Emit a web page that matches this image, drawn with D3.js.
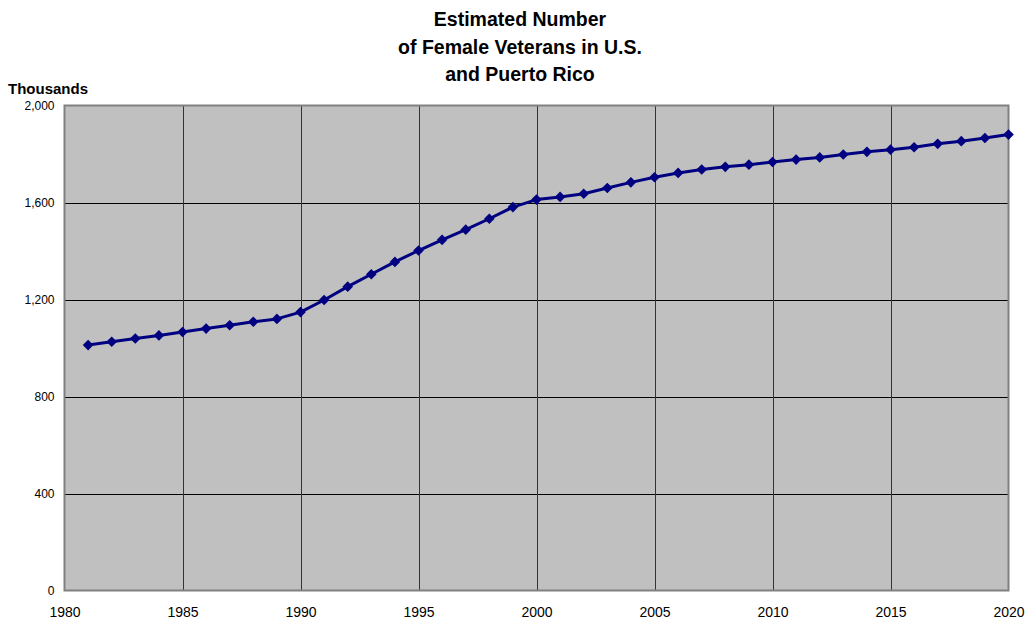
<!DOCTYPE html>
<html><head><meta charset="utf-8">
<script src="https://cdn.jsdelivr.net/npm/d3@7"></script>
<style>body{margin:0;background:#fff;} svg{display:block;font-family:"Liberation Sans",Arial,sans-serif;}</style>
</head><body>
<svg id="chart" width="1029" height="624"></svg>
<script>
const years = d3.range(1981, 2021);
const veterans = [1012,1026,1039,1052,1066,1080,1094,1108,1120,1148,1198,1253,1304,1355,1402,1446,1488,1533,1581,1612,1623,1636,1660,1683,1704,1722,1736,1747,1756,1767,1777,1786,1798,1809,1818,1828,1842,1853,1866,1880];
const xTicks = [1980,1985,1990,1995,2000,2005,2010,2015,2020];
const yTicks = [0,400,800,1200,1600,2000];
const titleLines = ["Estimated Number","of Female Veterans in U.S.","and Puerto Rico"];

const svg = d3.select("#chart");
const L=64.5, R=1008.5, T=105.5, B=590.5;
const x = d3.scaleLinear().domain([1980,2020]).range([L,R]);
const y = d3.scaleLinear().domain([0,2000]).range([B,T]);

svg.append("rect").attr("x",L).attr("y",T).attr("width",R-L).attr("height",B-T).attr("fill","#C0C0C0");

// gridlines
svg.append("g").selectAll("line").data(yTicks.filter(d=>d>0&&d<2000)).join("line")
  .attr("x1",L).attr("x2",R).attr("y1",d=>Math.round(y(d))+0.5).attr("y2",d=>Math.round(y(d))+0.5)
  .attr("stroke","#000").attr("stroke-width",1);
svg.append("g").selectAll("line").data(xTicks.filter(d=>d>1980&&d<2020)).join("line")
  .attr("y1",T).attr("y2",B).attr("x1",d=>Math.round(x(d))+0.5).attr("x2",d=>Math.round(x(d))+0.5)
  .attr("stroke","#333").attr("stroke-width",1);

svg.append("rect").attr("x",L).attr("y",T).attr("width",R-L).attr("height",B-T)
  .attr("fill","none").attr("stroke","#808080").attr("stroke-width",2);

// axes labels
const yAxis = d3.axisLeft(y).tickValues(yTicks).tickFormat(d3.format(",")).tickSize(0).tickPadding(10);
const gy = svg.append("g").attr("transform",`translate(${L},0)`).call(yAxis);
gy.select(".domain").remove();
gy.selectAll("text").attr("font-size",12).attr("fill","#000").attr("font-family","Liberation Sans, Arial, sans-serif");

const xAxis = d3.axisBottom(x).tickValues(xTicks).tickFormat(d3.format("d")).tickSize(0).tickPadding(17);
const gx = svg.append("g").attr("transform",`translate(0,${B})`).call(xAxis);
gx.select(".domain").remove();
gx.selectAll("text").attr("font-size",14).attr("fill","#000").attr("font-family","Liberation Sans, Arial, sans-serif");

// line
const data = years.map((yr,i)=>({yr, v:veterans[i]}));
svg.append("path").datum(data)
  .attr("d", d3.line().x(d=>x(d.yr)).y(d=>y(d.v)))
  .attr("fill","none").attr("stroke","#000080").attr("stroke-width",3).attr("stroke-linejoin","round");
svg.append("g").selectAll("path").data(data).join("path")
  .attr("d", d3.symbol().type(d3.symbolDiamond2).size(72))
  .attr("transform", d=>`translate(${x(d.yr)},${y(d.v)})`)
  .attr("fill","#000080");

// title
svg.append("g").selectAll("text").data(titleLines).join("text")
  .attr("x",520).attr("y",(d,i)=>26+i*27.5).attr("text-anchor","middle")
  .attr("font-size",19.5).attr("font-weight","bold").text(d=>d);

svg.append("text").attr("x",8).attr("y",94).attr("font-size",15).attr("font-weight","bold").text("Thousands");
</script>
</body></html>
